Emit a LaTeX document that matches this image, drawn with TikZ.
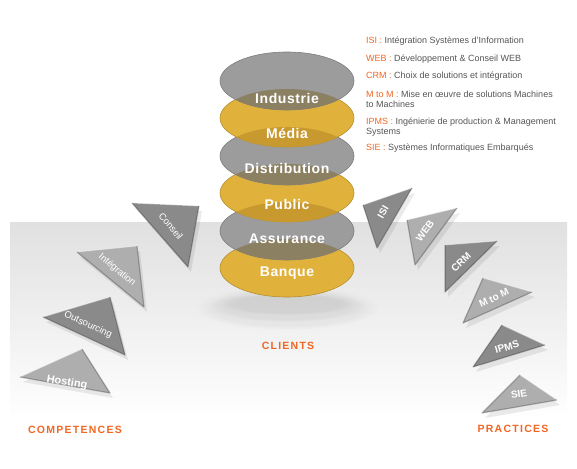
\documentclass[tikz,border=0pt]{standalone}
\usepackage{fontspec}
\setmainfont{Liberation Sans}
\usetikzlibrary{positioning,fadings}

\definecolor{orng}{HTML}{F26522}
\definecolor{darktri}{HTML}{8A8A8A}
\definecolor{lighttri}{HTML}{AEAEAE}
\definecolor{stackgray}{HTML}{9C9C9C}
\definecolor{stackgold}{HTML}{E1B23B}
\definecolor{graygold}{HTML}{8C8063}
\definecolor{goldgray}{HTML}{C8992E}
\definecolor{txtgray}{HTML}{555555}

% triangle: name, A, B, C, colour, label position, angle, text
\newcommand{\Tri}[8]{%
  \fill[black,opacity=0.08] ([shift={(3,5)}]#2) -- ([shift={(3,5)}]#3) -- ([shift={(3,5)}]#4) -- cycle;
  \fill[#5] (#2) -- (#3) -- (#4) -- cycle;
  \draw[white,opacity=0.35,line width=1pt] (#2) -- (#3);
  \draw[black,opacity=0.25,line width=1.2pt,line join=round] (#3) -- (#4) -- (#2);
  \node[tri label,rotate=#7] (#1) at (#6) {#8};
}

\begin{document}
\begin{tikzpicture}[x=1pt,y=-1pt,
  tri label/.style={text=white,font=\fontsize{9.5}{10}\selectfont,inner sep=0pt},
  tri bold/.style={font=\fontsize{10}{11}\selectfont\bfseries},
  stack label/.style={text=white,font=\fontsize{14}{15}\selectfont\bfseries\addfontfeatures{LetterSpace=4},inner sep=0pt},
  legend/.style={text=txtgray,font=\fontsize{9}{10}\selectfont,anchor=west,align=left,inner sep=0pt},
  section title/.style={text=orng,font=\fontsize{10.5}{12}\selectfont\bfseries\addfontfeatures{LetterSpace=12},inner sep=0pt},
  soft shadow/.style={black,opacity=0.04,path fading=circle with fuzzy edge 20 percent}]
\useasboundingbox (0,0) rectangle (577,468);

% background band
\shade[top color=black!12,bottom color=white] (10,222) rectangle (567,420);

% stack of clients
\fill[soft shadow] (287,308) ellipse (92 and 22);
\fill[soft shadow] (287,306) ellipse (78 and 16);
\fill[soft shadow] (287,304) ellipse (66 and 11);
\fill[stackgold,draw=stackgold!80!black,line width=0.6pt] (287,268) ellipse (67 and 29);
\fill[stackgray,draw=stackgray!80!black,line width=0.6pt] (287,231) ellipse (67 and 29);
\begin{scope}
  \clip (287,231) ellipse (67 and 29);
  \fill[graygold] (287,268) ellipse (67 and 29);
\end{scope}
\fill[stackgold,draw=stackgold!80!black,line width=0.6pt] (287,193) ellipse (67 and 29);
\begin{scope}
  \clip (287,193) ellipse (67 and 29);
  \fill[goldgray] (287,231) ellipse (67 and 29);
\end{scope}
\fill[stackgray,draw=stackgray!80!black,line width=0.6pt] (287,156) ellipse (67 and 29);
\begin{scope}
  \clip (287,156) ellipse (67 and 29);
  \fill[graygold] (287,193) ellipse (67 and 29);
\end{scope}
\fill[stackgold,draw=stackgold!80!black,line width=0.6pt] (287,118) ellipse (67 and 29);
\begin{scope}
  \clip (287,118) ellipse (67 and 29);
  \fill[goldgray] (287,156) ellipse (67 and 29);
\end{scope}
\fill[stackgray,draw=stackgray!80!black,line width=0.6pt] (287,81) ellipse (67 and 29);
\begin{scope}
  \clip (287,81) ellipse (67 and 29);
  \fill[graygold] (287,118) ellipse (67 and 29);
\end{scope}

\node[stack label] (industrie) at (287,98) {Industrie};
\node[stack label] (media) at (287,133) {Média};
\node[stack label] (distribution) at (287,168) {Distribution};
\node[stack label] (public) at (287,204) {Public};
\node[stack label] (assurance) at (287,239) {Assurance};
\node[stack label] (banque) at (287,273) {Banque};

% competences
\Tri{conseil}{132,203}{199,206}{188,267}{darktri}{171,226}{-50}{Conseil}
\Tri{integration}{77,252}{137,246}{144,307}{lighttri}{117,270}{-40}{Intégration}
\Tri{outsourcing}{43,317}{110,297}{125,355}{darktri}{88,325}{-24}{Outsourcing}
\Tri{hosting}{20,377}{82,349}{110,393}{lighttri}{67,383}{-9}{\textbf{\fontsize{11}{12}\selectfont Hosting}}

% practices
\Tri{isi}{412,188}{363,205}{377,248}{darktri}{383,212}{60}{\textbf{\fontsize{10}{11}\selectfont ISI}}
\Tri{web}{457,208}{407,220}{415,265}{lighttri}{425,231}{54}{\textbf{\fontsize{10}{11}\selectfont WEB}}
\Tri{crm}{497,241}{445,245}{445,292}{darktri}{461,262}{43}{\textbf{\fontsize{10}{11}\selectfont CRM}}
\Tri{mtom}{532,292}{483,278}{463,323}{lighttri}{494,298}{25}{\textbf{\fontsize{10}{11}\selectfont M to M}}
\Tri{ipms}{545,345}{502,325}{473,367}{darktri}{507,347}{16}{\textbf{\fontsize{10}{11}\selectfont IPMS}}
\Tri{sie}{557,400}{520,375}{482,413}{lighttri}{519,394}{9}{\textbf{\fontsize{10}{11}\selectfont SIE}}

% legend
\node[legend] (lisi) at (366,41) {\textcolor{orng}{ISI :} Intégration Systèmes d'Information};
\node[legend] (lweb) at (366,59) {\textcolor{orng}{WEB :} Développement \& Conseil WEB};
\node[legend] (lcrm) at (366,76) {\textcolor{orng}{CRM :} Choix de solutions et intégration};
\node[legend] (lmtom) at (366,99) {\textcolor{orng}{M to M :} Mise en œuvre de solutions Machines\\to Machines};
\node[legend] (lipms) at (366,127) {\textcolor{orng}{IPMS :} Ingénierie de production \& Management\\Systems};
\node[legend] (lsie) at (366,148) {\textcolor{orng}{SIE :} Systèmes Informatiques Embarqués};

% titles
\node[section title] (competences) at (75,430) {COMPETENCES};
\node[section title] (clients) at (288,346) {CLIENTS};
\node[section title] (practices) at (513,429) {PRACTICES};
\end{tikzpicture}
\end{document}
